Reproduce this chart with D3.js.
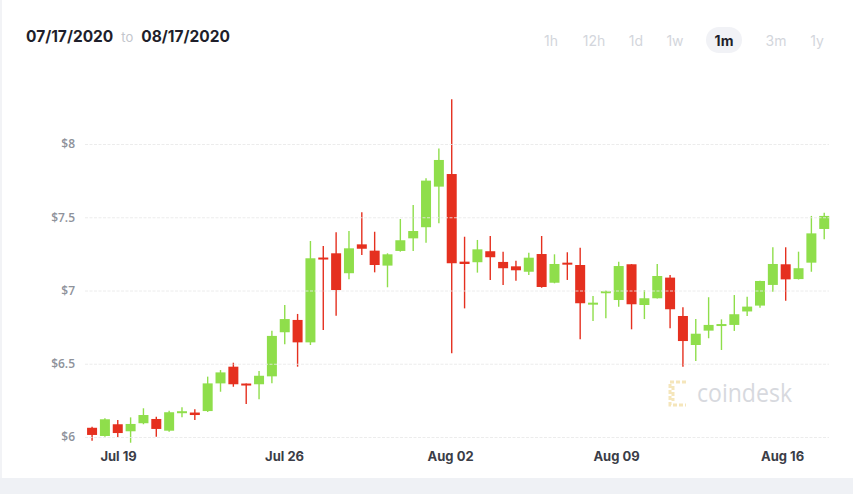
<!DOCTYPE html>
<html>
<head>
<meta charset="utf-8">
<script src="https://cdn.jsdelivr.net/npm/d3@7"></script>
<style>
  html, body { margin: 0; padding: 0; background: #fff; }
  svg { display: block; }
</style>
</head>
<body>
<svg id="chart" width="853" height="494"></svg>
<script>
// ---------- DATA ----------
const startTime = Date.UTC(2020, 6, 17, 21, 40); // first candle
const stepHours = 13;                            // candle interval
const opens  = [6.063,6.007,6.087,6.039,6.094,6.123,6.043,6.169,6.167,6.177,6.366,6.48,6.365,6.36,6.414,6.715,6.799,6.646,7.225,7.254,7.118,7.315,7.272,7.17,7.27,7.356,7.432,7.709,7.795,7.197,7.193,7.268,7.195,7.165,7.128,7.249,7.053,7.19,7.174,6.906,6.99,6.935,7.179,6.901,6.947,7.088,6.826,6.628,6.726,6.76,6.765,6.857,6.897,7.038,7.179,7.078,7.19,7.42];
const highs  = [6.07,6.128,6.116,6.134,6.196,6.139,6.18,6.203,6.19,6.412,6.457,6.507,6.366,6.45,6.726,6.901,6.84,7.338,7.304,7.397,7.406,7.534,7.401,7.254,7.488,7.584,7.766,7.97,8.305,7.367,7.345,7.372,7.265,7.203,7.258,7.372,7.247,7.261,7.292,6.962,7.0,7.197,7.18,7.003,7.181,7.106,6.885,6.805,6.954,6.803,6.969,6.958,7.066,7.295,7.295,7.265,7.509,7.531];
const lows   = [5.975,6.002,6.0,5.961,6.087,6.002,6.036,6.134,6.116,6.171,6.309,6.343,6.225,6.257,6.367,6.633,6.48,6.628,6.73,6.828,7.076,7.242,7.124,7.022,7.265,7.27,7.326,7.459,6.571,6.878,7.122,7.072,7.038,7.067,7.106,7.019,7.049,7.072,6.667,6.792,6.81,6.889,6.735,6.805,6.945,6.742,6.48,6.519,6.674,6.594,6.724,6.826,6.883,6.992,6.93,7.075,7.128,7.35];
const closes = [6.014,6.121,6.027,6.089,6.15,6.055,6.169,6.176,6.15,6.366,6.441,6.36,6.36,6.418,6.69,6.805,6.646,7.22,7.214,7.003,7.288,7.285,7.174,7.247,7.343,7.406,7.75,7.891,7.186,7.181,7.281,7.227,7.152,7.138,7.224,7.024,7.181,7.179,6.913,6.917,6.995,7.167,6.906,6.947,7.099,6.872,6.655,6.705,6.765,6.771,6.838,6.89,7.065,7.181,7.076,7.152,7.39,7.509];
const yTicks = [6, 6.5, 7, 7.5, 8];
const yTickLabels = ["$6", "$6.5", "$7", "$7.5", "$8"];
const xTickDates = [Date.UTC(2020,6,19), Date.UTC(2020,6,26), Date.UTC(2020,7,2), Date.UTC(2020,7,9), Date.UTC(2020,7,16)];
const xTickLabels = ["Jul 19", "Jul 26", "Aug 02", "Aug 09", "Aug 16"];
const rangeButtons = ["1h", "12h", "1d", "1w", "1m", "3m", "1y"];
const activeButton = "1m";
const dateFrom = "07/17/2020", dateTo = "08/17/2020";

// ---------- LAYOUT ----------
const svg = d3.select("#chart");
const W = 853, H = 494;
const plot = { left: 85, right: 829, top: 144, bottom: 437 };
const GREEN = "#8fde4b", RED = "#e5301f";
const FONT = "Inter, 'Open Sans', sans-serif";

const candles = opens.map((o, i) => ({
  t: new Date(startTime + i * stepHours * 3600e3),
  o, h: highs[i], l: lows[i], c: closes[i]
}));

const x = d3.scaleUtc()
  .domain([new Date(Date.UTC(2020,6,17,13,30)), new Date(Date.UTC(2020,7,17,23,30))])
  .range([84, 829]);
const y = d3.scaleLinear().domain([6, 8]).range([plot.bottom, plot.top]);

// background pieces
svg.append("rect").attr("x", 0).attr("y", 0).attr("width", W).attr("height", H).attr("fill", "#fff");
svg.append("rect").attr("x", 0).attr("y", 478).attr("width", W).attr("height", H - 478).attr("fill", "#eff1f5");
svg.append("rect").attr("x", 0).attr("y", 0).attr("width", 2).attr("height", 478).attr("fill", "#f2f3f6");

// header
const hdr = svg.append("text").attr("x", 26).attr("y", 42)
  .attr("font-family", FONT).attr("font-size", 15.5).attr("font-weight", 700).attr("fill", "#1f1f2b");
hdr.append("tspan").text(dateFrom);
hdr.append("tspan").attr("dx", 8).attr("font-size", 13).attr("font-weight", 400).attr("fill", "#c3c6cd").text("to");
hdr.append("tspan").attr("dx", 8).text(dateTo);

const btnX = [551, 594, 636, 675, 724, 776, 817];
const btnG = svg.append("g");
rangeButtons.forEach((b, i) => {
  if (b === activeButton) {
    btnG.append("rect").attr("x", btnX[i] - 18).attr("y", 27).attr("width", 36).attr("height", 26)
      .attr("rx", 13).attr("fill", "#f1f2f6");
  }
  btnG.append("text").attr("x", btnX[i]).attr("y", 46).attr("text-anchor", "middle")
    .attr("font-family", FONT).attr("font-size", 14)
    .attr("font-weight", b === activeButton ? 700 : 400)
    .attr("fill", b === activeButton ? "#1f1f2b" : "#d3d6dc").text(b);
});

// watermark
const wm = svg.append("g");
wm.append("path")
  .attr("d", "M686,382 H670 V405 H686 M673,386 V401")
  .attr("fill", "none").attr("stroke", "#f5e6bb").attr("stroke-width", 3).attr("stroke-dasharray", "4,2");
wm.append("text").attr("x", 697).attr("y", 402).attr("font-family", "'Open Sans', sans-serif")
  .attr("font-size", 26).attr("fill", "#d7d9de")
  .attr("textLength", 95).attr("lengthAdjust", "spacingAndGlyphs").text("coindesk");

// candles
const bodyW = 10;
const cg = svg.append("g");
const col = d => d.c >= d.o ? GREEN : RED;
cg.selectAll("line.wick").data(candles).join("line").attr("class", "wick")
  .attr("x1", d => x(d.t)).attr("x2", d => x(d.t))
  .attr("y1", d => y(d.h)).attr("y2", d => y(d.l))
  .attr("stroke", col).attr("stroke-width", 1.4);
cg.selectAll("rect.body").data(candles).join("rect").attr("class", "body")
  .attr("x", d => x(d.t) - bodyW / 2).attr("width", bodyW)
  .attr("y", d => y(Math.max(d.o, d.c)))
  .attr("height", d => Math.max(2, Math.abs(y(d.o) - y(d.c))))
  .attr("fill", col);

// gridlines (drawn over candles, like the original)
const yAxis = d3.axisLeft(y).tickValues(yTicks)
  .tickFormat((d, i) => yTickLabels[i])
  .tickSize(-(plot.right - plot.left)).tickPadding(10);
const ga = svg.append("g").attr("transform", `translate(${plot.left},0)`).call(yAxis);
ga.select(".domain").remove();
ga.selectAll(".tick line").attr("stroke", "#e9e9e9").attr("stroke-opacity", 0.85).attr("stroke-dasharray", "3,1.5");
ga.selectAll(".tick text").attr("font-family", "'Open Sans', sans-serif").attr("font-size", 12)
  .attr("font-weight", 600).attr("fill", "#8e929b").attr("x", -10);

// x axis labels
const xAxis = d3.axisBottom(x).tickValues(xTickDates.map(d => new Date(d)))
  .tickFormat((d, i) => xTickLabels[i]).tickSize(0).tickPadding(0);
const gx = svg.append("g").attr("transform", `translate(0,${plot.bottom + 15})`).call(xAxis);
gx.select(".domain").remove();
gx.selectAll(".tick text").attr("font-family", FONT).attr("font-size", 13)
  .attr("font-weight", 700).attr("fill", "#3b3d47");
</script>
</body>
</html>
